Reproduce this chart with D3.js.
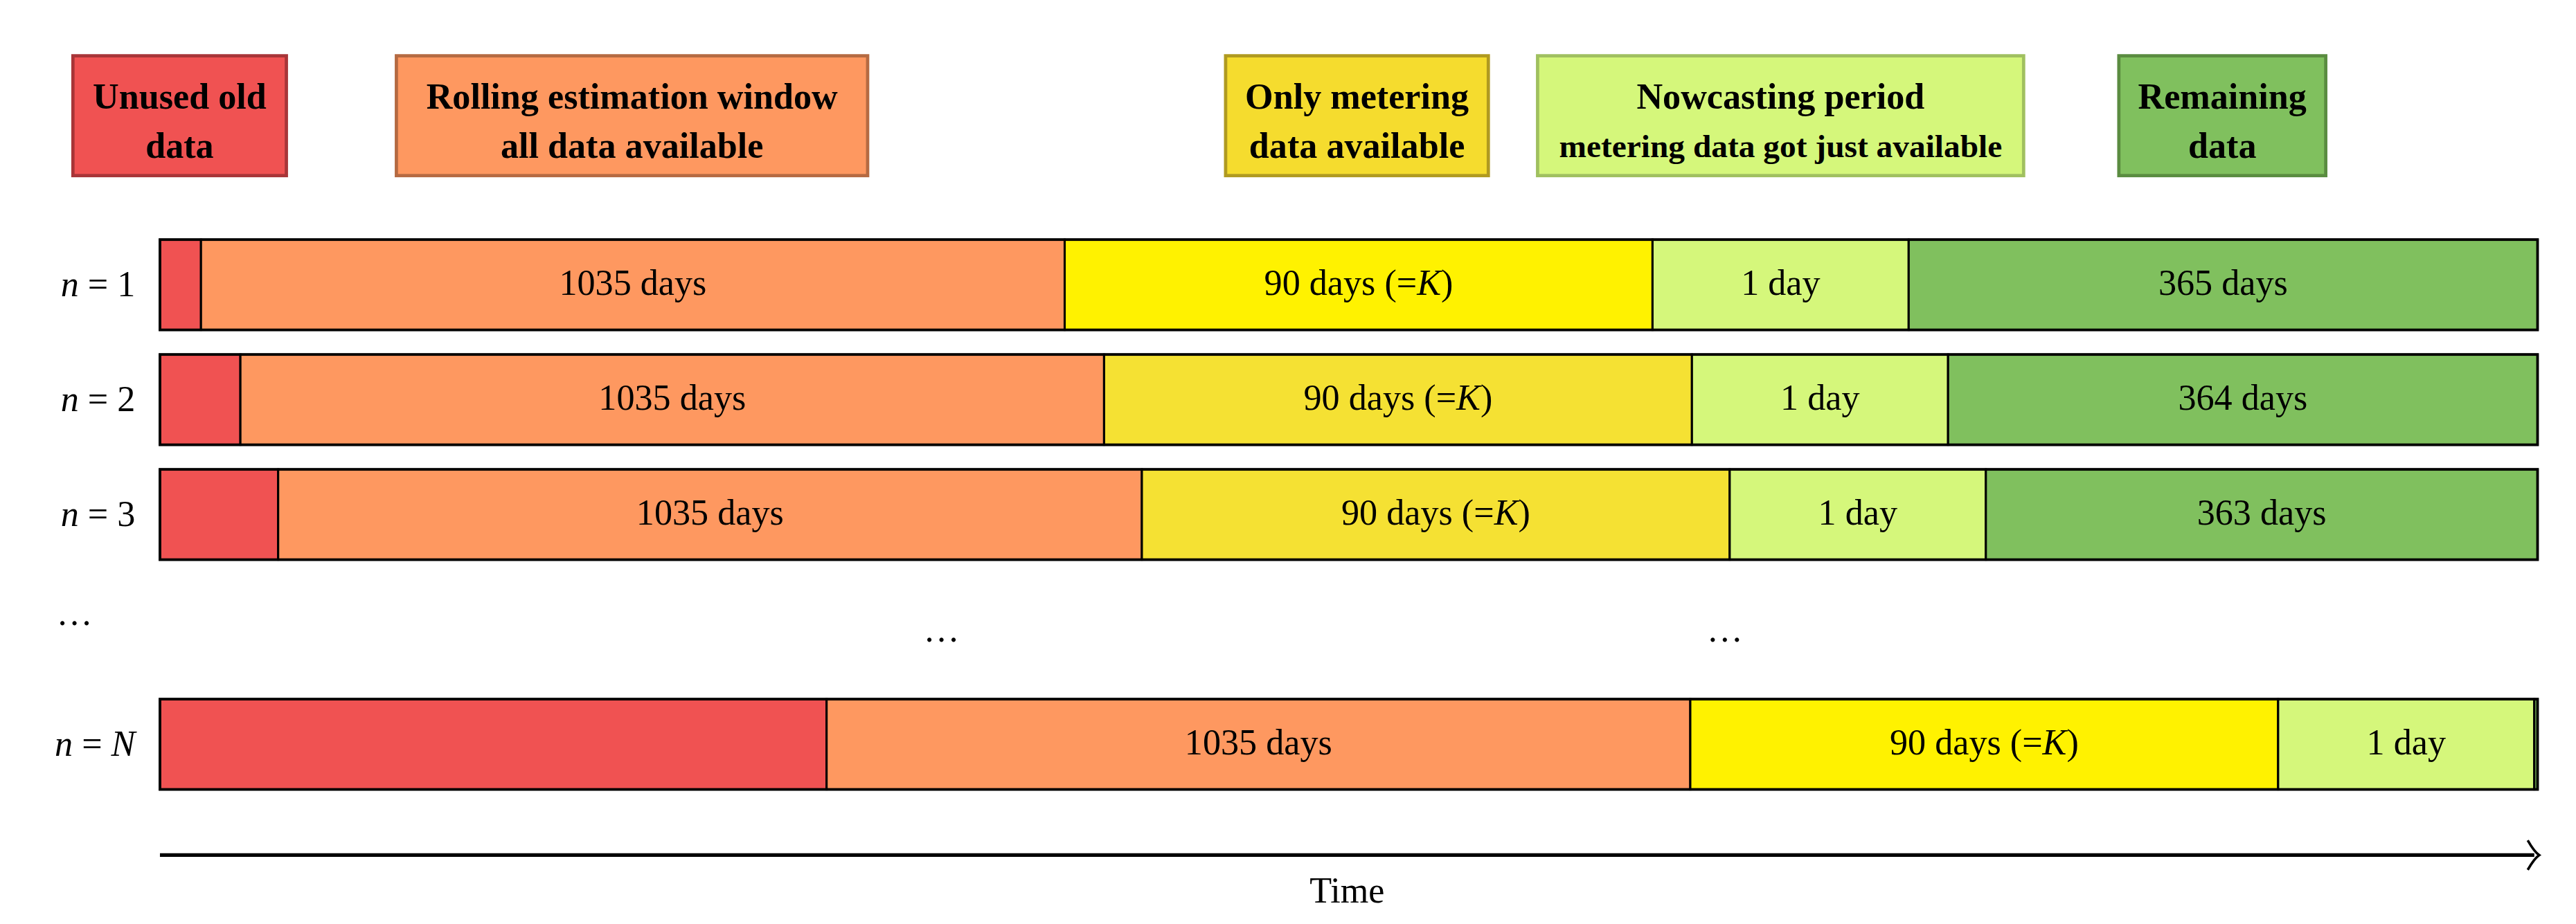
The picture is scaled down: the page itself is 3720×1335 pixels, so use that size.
<!DOCTYPE html>
<html>
<head>
<meta charset="utf-8">
<script src="https://cdn.jsdelivr.net/npm/d3@7"></script>
<style>
  body { margin: 0; background: #fff; }
  svg text { font-family: "Liberation Serif", "DejaVu Serif", serif; }
</style>
</head>
<body>
<div id="plot-canvas"></div>
<script>
// schematic lengths (figure is not to scale), in figure units
var rowLabels = ['1', '2', '3', 'N'];
var oldLengths = [25, 49, 72, 406];
var phases = ['old', 'window', 'metering', 'nowcast', 'remaining'];
var phaseLengths = [526, 358, 156, 383];
var rowTexts = [
    ['', '1035 days', '90 days (=K)', '1 day', '365 days'],
    ['', '1035 days', '90 days (=K)', '1 day', '364 days'],
    ['', '1035 days', '90 days (=K)', '1 day', '363 days'],
    ['', '1035 days', '90 days (=K)', '1 day', '']
];
var legendLines = [
    ['Unused old', 'data'],
    ['Rolling estimation window', 'all data available'],
    ['Only metering', 'data available'],
    ['Nowcasting period', 'metering data got just available'],
    ['Remaining', 'data']
];
var legendX = [[44, 174], [241, 528], [746, 906], [936, 1232], [1290, 1416]];
var rowTops = [146, 216, 286, 426];

var fills = { old: '#f05252', window: '#fe9860', metering: '#fff200', nowcast: '#d5f77b', remaining: '#80c05e' };
var meteringAlt = '#f5e133';
var legendFill = { old: '#f05252', window: '#fe9860', metering: '#f5dc2e', nowcast: '#d5f77b', remaining: '#80c05e' };
var legendStroke = { old: '#a83538', window: '#b56a42', metering: '#b09a20', nowcast: '#a0c060', remaining: '#5a8c40' };

var W = 1568, H = 563;
var svg = d3.select('#plot-canvas').append('svg')
    .attr('width', 3720).attr('height', 1335)
    .attr('viewBox', '0 0 ' + W + ' ' + H);

var x = d3.scaleLinear().domain([0, 1448]).range([97, 1545]);
var rowH = 55;

// legend
legendLines.forEach(function (lines, i) {
    var g = svg.append('g');
    var x0 = legendX[i][0], x1 = legendX[i][1];
    g.append('rect').attr('x', x0).attr('y', 34).attr('width', x1 - x0).attr('height', 73)
        .attr('fill', legendFill[phases[i]]).attr('stroke', legendStroke[phases[i]]).attr('stroke-width', 2);
    lines.forEach(function (t, j) {
        g.append('text').attr('x', (x0 + x1) / 2).attr('y', 61 + j * 30)
            .attr('text-anchor', 'middle').attr('dominant-baseline', 'middle')
            .attr('font-weight', 'bold').attr('font-size', i == 3 && j == 1 ? 20 : 22).text(t);
    });
});

// rows
rowLabels.forEach(function (lab, r) {
    var y0 = rowTops[r];
    var lengths = [oldLengths[r]].concat(phaseLengths);
    var pos = 0;
    var segs = lengths.map(function (len, k) {
        var s = { k: k, a: pos, b: Math.min(pos + len, 1448), text: rowTexts[r][k] };
        pos += len;
        return s;
    }).filter(function (s) { return s.b > s.a; });

    var g = svg.append('g');
    g.selectAll('rect').data(segs).enter().append('rect')
        .attr('x', function (d) { return x(d.a); })
        .attr('width', function (d) { return x(d.b) - x(d.a); })
        .attr('y', y0).attr('height', rowH)
        .attr('fill', function (d) {
            if (d.k == 2 && (r == 1 || r == 2)) return meteringAlt;
            return fills[phases[d.k]];
        })
        .attr('stroke', '#000').attr('stroke-width', 1.3);
    g.append('rect').attr('x', x(0)).attr('y', y0).attr('width', x(1448) - x(0)).attr('height', rowH)
        .attr('fill', 'none').attr('stroke', '#000').attr('stroke-width', 1.6);
    g.selectAll('text.seg').data(segs).enter().append('text')
        .attr('class', 'seg')
        .attr('x', function (d) { return (x(d.a) + x(d.b)) / 2; })
        .attr('y', y0 + rowH / 2 + 1)
        .attr('text-anchor', 'middle').attr('dominant-baseline', 'middle')
        .attr('font-size', 22)
        .each(function (d) {
            var t = d3.select(this);
            var m = d.text.match(/^(.*=)K(\))$/);
            if (m) {
                t.append('tspan').text(m[1]);
                t.append('tspan').attr('font-style', 'italic').text('K');
                t.append('tspan').text(m[2]);
            } else t.text(d.text);
        });

    var lt = svg.append('text').attr('x', 82).attr('y', y0 + rowH / 2 + 2)
        .attr('text-anchor', 'end').attr('dominant-baseline', 'middle').attr('font-size', 22);
    lt.append('tspan').attr('font-style', 'italic').text('n');
    lt.append('tspan').text(' = ');
    lt.append('tspan').attr('font-style', lab == 'N' ? 'italic' : 'normal').text(lab);
});

// ellipses
[[45, 381], [573, 391], [1050, 391]].forEach(function (p) {
    svg.append('text').attr('x', p[0]).attr('y', p[1]).attr('text-anchor', 'middle')
        .attr('font-size', 22).text('\u2026');
});

// time arrow
svg.append('line').attr('x1', x(0)).attr('x2', x(1448) - 2).attr('y1', 521).attr('y2', 521)
    .attr('stroke', '#000').attr('stroke-width', 2.2);
svg.append('path').attr('d', 'M' + (x(1448) - 6) + ',512 Q' + (x(1448) - 2) + ',519 ' + (x(1448) + 1) + ',521 Q' + (x(1448) - 2) + ',523 ' + (x(1448) - 6) + ',530')
    .attr('fill', 'none').attr('stroke', '#000').attr('stroke-width', 1.5);
svg.append('text').attr('x', 820).attr('y', 550).attr('text-anchor', 'middle')
    .attr('font-size', 22).text('Time');
</script>
</body>
</html>
